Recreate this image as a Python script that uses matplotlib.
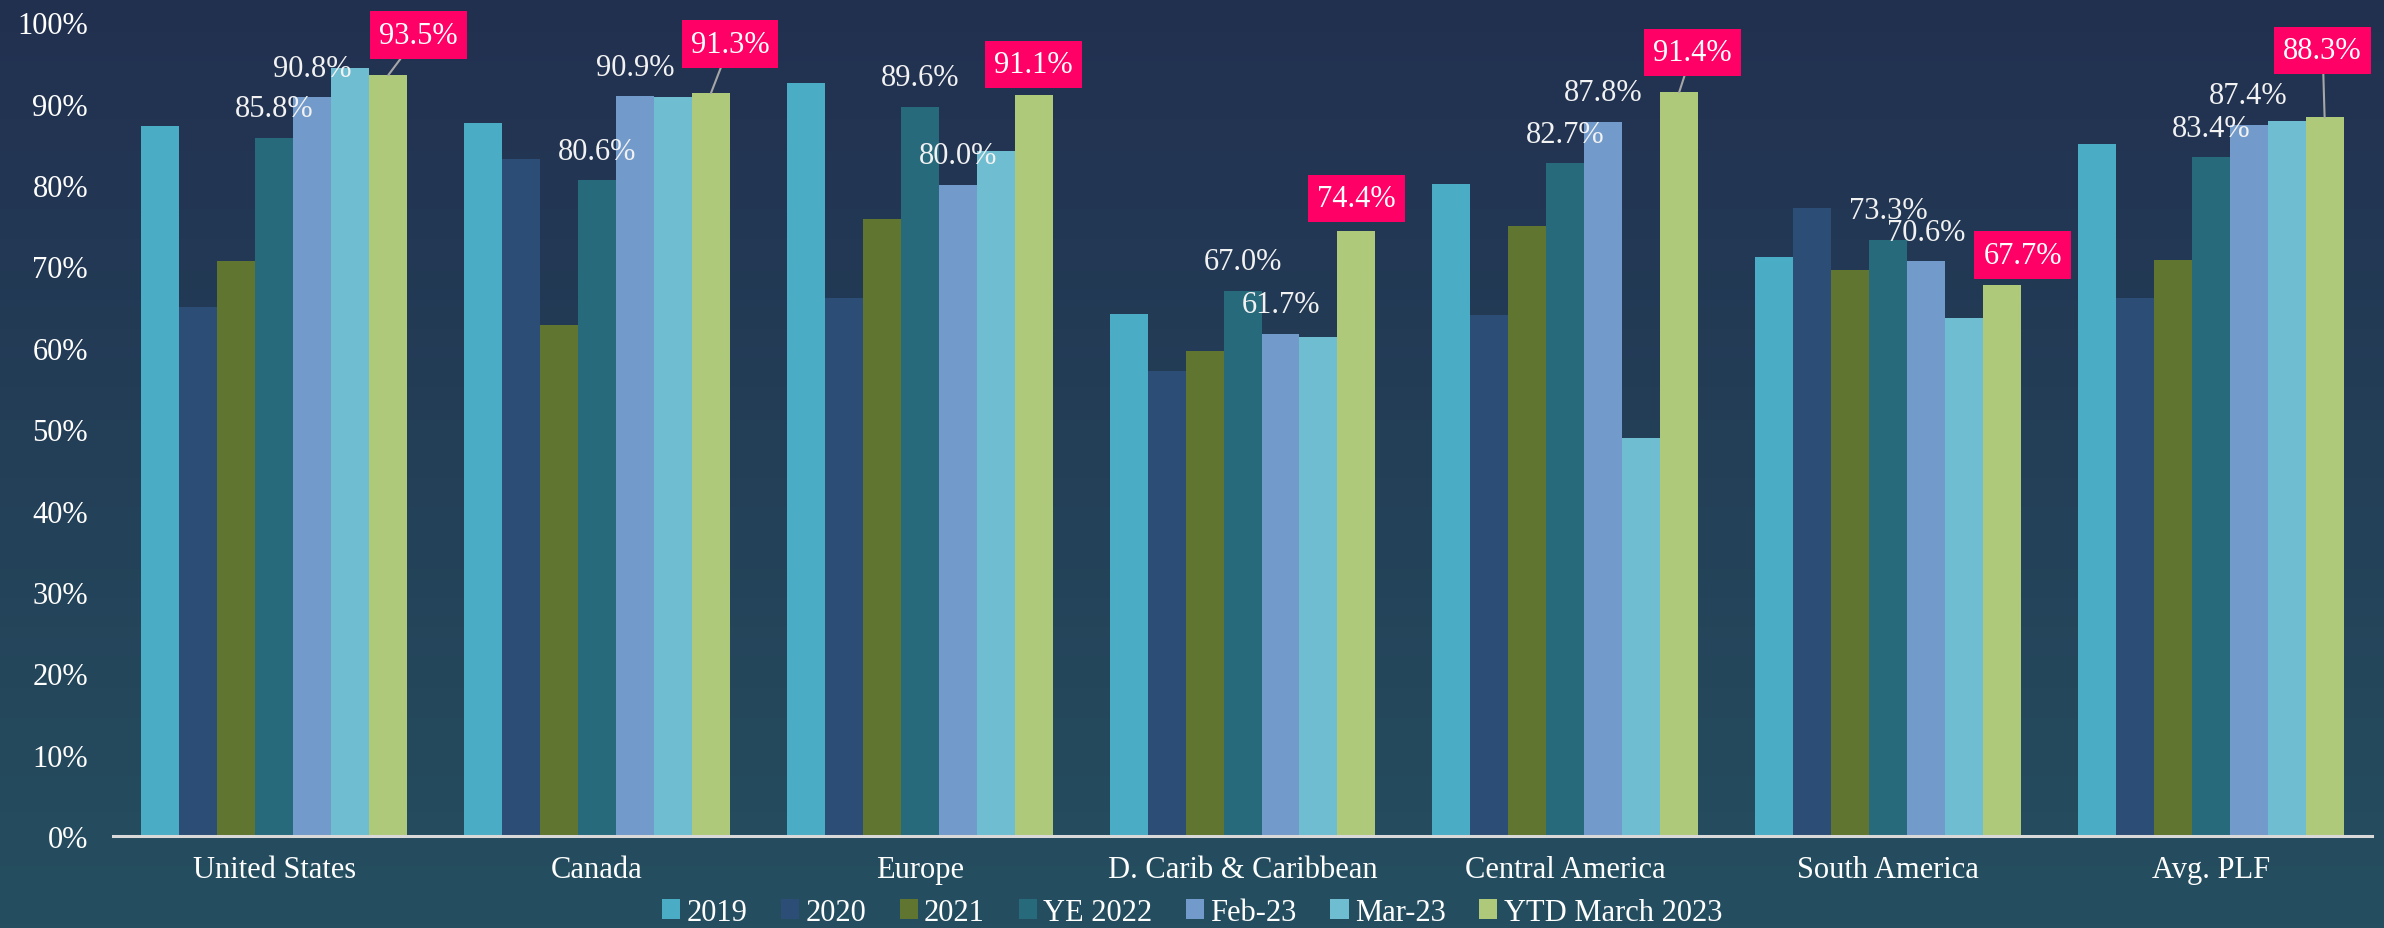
import numpy as np
import matplotlib
matplotlib.use("Agg")
import matplotlib.pyplot as plt

plt.rcParams['font.family'] = ['Liberation Serif', 'DejaVu Serif']

# datos
regiones = ['United States', 'Canada', 'Europe', 'D. Carib & Caribbean',
            'Central America', 'South America', 'Avg. PLF']
series = ['2019', '2020', '2021', 'YE 2022', 'Feb-23', 'Mar-23', 'YTD March 2023']

v2019 = [87.3, 87.6, 92.5, 64.1, 80.1, 71.1, 85.0]
v2020 = [65.0, 83.2, 66.1, 57.1, 64.0, 77.2, 66.1]
v2021 = [70.6, 62.8, 75.8, 59.6, 75.0, 69.5, 70.8]
vye2022 = [85.8, 80.6, 89.6, 67.0, 82.7, 73.3, 83.4]
vfeb23 = [90.8, 90.9, 80.0, 61.7, 87.8, 70.6, 87.4]
vmar23 = [94.4, 90.8, 84.2, 61.3, 48.9, 63.7, 87.9]
vytd = [93.5, 91.3, 91.1, 74.4, 91.4, 67.7, 88.3]

valores = [v2019, v2020, v2021, vye2022, vfeb23, vmar23, vytd]
colores = ['#4bacc6', '#2c4d75', '#5f7530', '#276a7c', '#729aca', '#6fbdd1', '#afc97a']

# desplazamiento (px) de la caja rosa respecto a la punta de la barra
caja_dx = [30, 19, 0, 0, 13, 21, -2]
caja_dy = [40, 49, 30, 32, 40, 30, 67]

fig = plt.figure(figsize=(23.84, 9.29), dpi=100)

# fondo degradado
fondo = fig.add_axes([0, 0, 1, 1], zorder=-10)
arriba = np.array([34, 48, 80]) / 255
abajo = np.array([37, 79, 96]) / 255
t = np.linspace(0, 1, 256)[:, None]
grad = arriba[None, :] * (1 - t) + abajo[None, :] * t
fondo.imshow(grad[:, None, :], aspect='auto', extent=[0, 1, 0, 1])
fondo.axis('off')

ax = fig.add_axes([0.0474, 0.099, 0.9476, 0.876])
ax.patch.set_alpha(0)

x = np.arange(len(regiones))
ancho = 1 / 8.5
for i, (vals, col) in enumerate(zip(valores, colores)):
    pos = x + (i - 3) * ancho
    ax.bar(pos, vals, ancho, color=col, label=series[i], zorder=2)
    if i in (3, 4):
        for xp, v in zip(pos, vals):
            ax.annotate(f'{v:.1f}%', (xp, v), xytext=(0, 29), textcoords='offset pixels',
                        ha='center', va='center', color='#f2f2f2', fontsize=22, zorder=5)
    if i == 6:
        for k, (xp, v) in enumerate(zip(pos, vals)):
            linea = None
            if caja_dy[k] > 35:
                linea = dict(arrowstyle='-', color='#a6a6a6', lw=1.5, shrinkA=0, shrinkB=0)
            ax.annotate(f'{v:.1f}%', (xp, v), xytext=(caja_dx[k], caja_dy[k]),
                        textcoords='offset pixels', ha='center', va='center',
                        color='white', fontsize=22, zorder=6,
                        bbox=dict(boxstyle='square,pad=0.3', fc='#ff0066', ec='none'),
                        arrowprops=linea)

ax.set_xlim(-0.5, len(regiones) - 0.5)
ax.set_ylim(0, 100)
ax.set_yticks(np.arange(0, 101, 10))
ax.set_yticklabels([f'{v}%' for v in range(0, 101, 10)])
ax.set_xticks(x)
ax.set_xticklabels(regiones)
ax.tick_params(axis='y', length=0, pad=18, labelsize=22, labelcolor='white')
ax.tick_params(axis='x', length=0, pad=14, labelsize=22, labelcolor='white')
for s in ['top', 'right', 'left']:
    ax.spines[s].set_visible(False)
ax.spines['bottom'].set_color('#d9d9d9')
ax.spines['bottom'].set_linewidth(2.2)
ax.spines['bottom'].set_zorder(3)

fig.legend(loc='center', bbox_to_anchor=(0.5, 0.017), ncol=7, frameon=False,
           fontsize=22, labelcolor='white', handlelength=0.6, handleheight=0.6,
           handletextpad=0.2, columnspacing=1.1, borderaxespad=0)

plt.savefig('out.png', dpi=100)
